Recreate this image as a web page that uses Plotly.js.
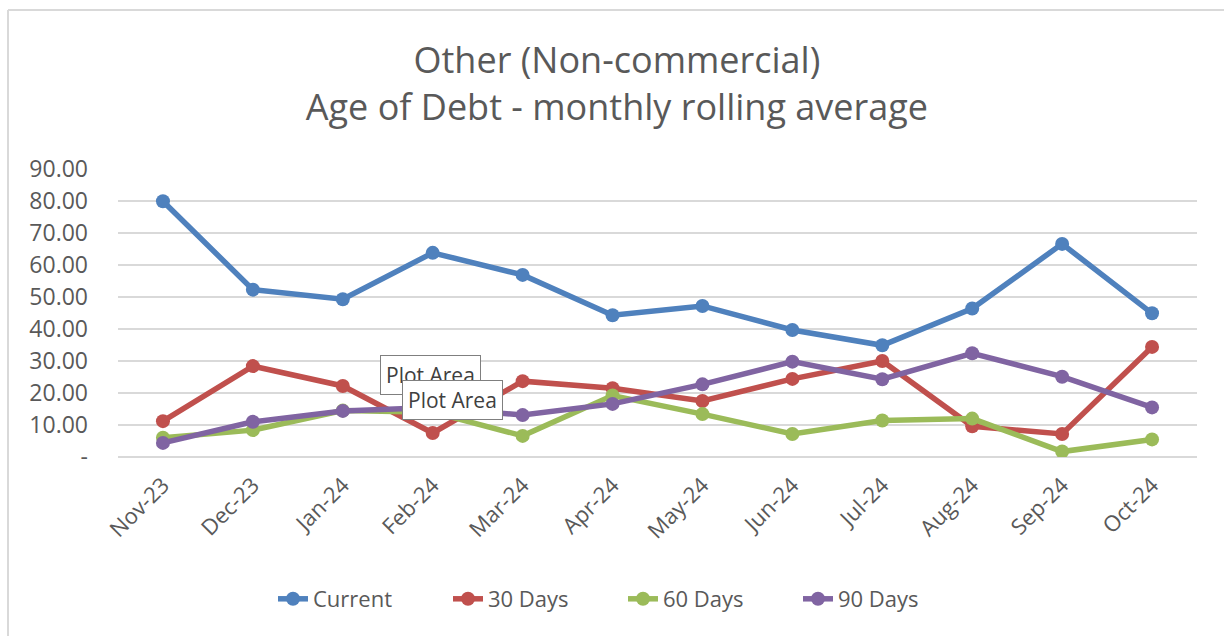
<!DOCTYPE html>
<html>
<head>
<meta charset="utf-8">
<script src="https://cdn.plot.ly/plotly-3.0.1.min.js"></script>
<style>
  html, body { margin: 0; padding: 0; background: #ffffff; }
  #chart { width: 1224px; height: 636px; }
</style>
</head>
<body>
<div id="chart"></div>
<script>
// ---- data ----
const months = ["Nov-23","Dec-23","Jan-24","Feb-24","Mar-24","Apr-24","May-24","Jun-24","Jul-24","Aug-24","Sep-24","Oct-24"];
const current = [79.9, 52.3, 49.3, 63.8, 56.9, 44.3, 47.2, 39.7, 34.9, 46.4, 66.6, 44.9];
const days30  = [11.2, 28.4, 22.2, 7.5, 23.7, 21.5, 17.5, 24.4, 30.0, 9.6, 7.2, 34.4];
const days60  = [6.0, 8.4, 14.5, 14.0, 6.6, 19.2, 13.4, 7.2, 11.4, 12.0, 1.7, 5.5];
const days90  = [4.4, 11.0, 14.4, 15.5, 13.1, 16.6, 22.7, 29.8, 24.3, 32.4, 25.1, 15.5];
const seriesNames = ["Current", "30 Days", "60 Days", "90 Days"];
const yTickVals = [0, 10, 20, 30, 40, 50, 60, 70, 80, 90];
const yTickText = ["-", "10.00", "20.00", "30.00", "40.00", "50.00", "60.00", "70.00", "80.00", "90.00"];
const titleLines = ["Other (Non-commercial)", "Age of Debt - monthly rolling average"];
const tooltipText = "Plot Area";

// ---- styling ----
const colors = ["#4F81BD", "#C0504D", "#9BBB59", "#8064A2"];
const font = "'Open Sans', 'DejaVu Sans', sans-serif";
const grey = "#595959";

const allSeries = [current, days30, days60, days90];
const xIdx = months.map((_, i) => i);

const traces = allSeries.map((vals, k) => ({
  type: "scatter",
  mode: "lines+markers",
  name: seriesNames[k],
  x: xIdx,
  y: vals,
  line: { color: colors[k], width: 5.5 },
  marker: { color: colors[k], size: 14 },
  hoverinfo: "skip"
}));

// plot area in pixels: x 118..1197, y 169..457
const L = 118, R = 1197, T = 169, B = 457;
const px = v => (v - L) / (R - L);
const py = v => (B - v) / (B - T);

const layout = {
  width: 1224,
  height: 636,
  margin: { l: L, r: 1224 - R, t: T, b: 636 - B, pad: 0 },
  paper_bgcolor: "#ffffff",
  plot_bgcolor: "#ffffff",
  font: { family: font, color: grey },
  title: {
    text: titleLines.join("<br>"),
    font: { family: font, size: 36, color: grey },
    x: 0.504, xanchor: "center",
    y: 1 - 73 / 636, yanchor: "middle",
    yref: "container", xref: "container"
  },
  showlegend: true,
  legend: {
    orientation: "h",
    x: px(273), xanchor: "left",
    y: py(599), yanchor: "middle",
    font: { family: font, size: 22, color: grey },
    entrywidth: 130,
    entrywidthmode: "pixels",
    tracegroupgap: 0,
    bgcolor: "rgba(0,0,0,0)"
  },
  xaxis: {
    range: [-0.5, months.length - 0.5],
    tickmode: "array",
    tickvals: xIdx,
    ticktext: months,
    tickangle: -45,
    tickfont: { family: font, size: 22, color: grey },
    showgrid: false,
    zeroline: false,
    showline: false,
    ticks: "",
    ticklabelstandoff: 10,
    fixedrange: true
  },
  yaxis: {
    range: [0, 90],
    tickmode: "array",
    tickvals: yTickVals,
    ticktext: yTickText,
    tickfont: { family: font, size: 23, color: grey },
    showgrid: true,
    gridcolor: "#d9d9d9",
    gridwidth: 2,
    zeroline: true,
    zerolinecolor: "#d9d9d9",
    zerolinewidth: 2,
    showline: false,
    ticks: "",
    ticklabelstandoff: 29,
    fixedrange: true
  },
  shapes: [
    { type: "line", xref: "paper", yref: "paper", x0: px(8), x1: px(1224), y0: py(10), y1: py(10),
      line: { color: "#d9d9d9", width: 2 } },
    { type: "line", xref: "paper", yref: "paper", x0: px(8), x1: px(8), y0: py(10), y1: py(636),
      line: { color: "#d9d9d9", width: 2 } }
  ],
  annotations: [
    { xref: "paper", yref: "paper", x: px(430.5), y: py(374.5), xanchor: "center", yanchor: "middle",
      text: tooltipText, showarrow: false, font: { family: font, size: 21, color: "#404040" },
      bgcolor: "#ffffff", bordercolor: "#7f7f7f", borderwidth: 1, borderpad: 5 },
    { xref: "paper", yref: "paper", x: px(452), y: py(400), xanchor: "center", yanchor: "middle",
      text: tooltipText, showarrow: false, font: { family: font, size: 21, color: "#404040" },
      bgcolor: "#ffffff", bordercolor: "#7f7f7f", borderwidth: 1, borderpad: 5 }
  ]
};

Plotly.newPlot("chart", traces, layout, { staticPlot: true, displayModeBar: false });
</script>
</body>
</html>
